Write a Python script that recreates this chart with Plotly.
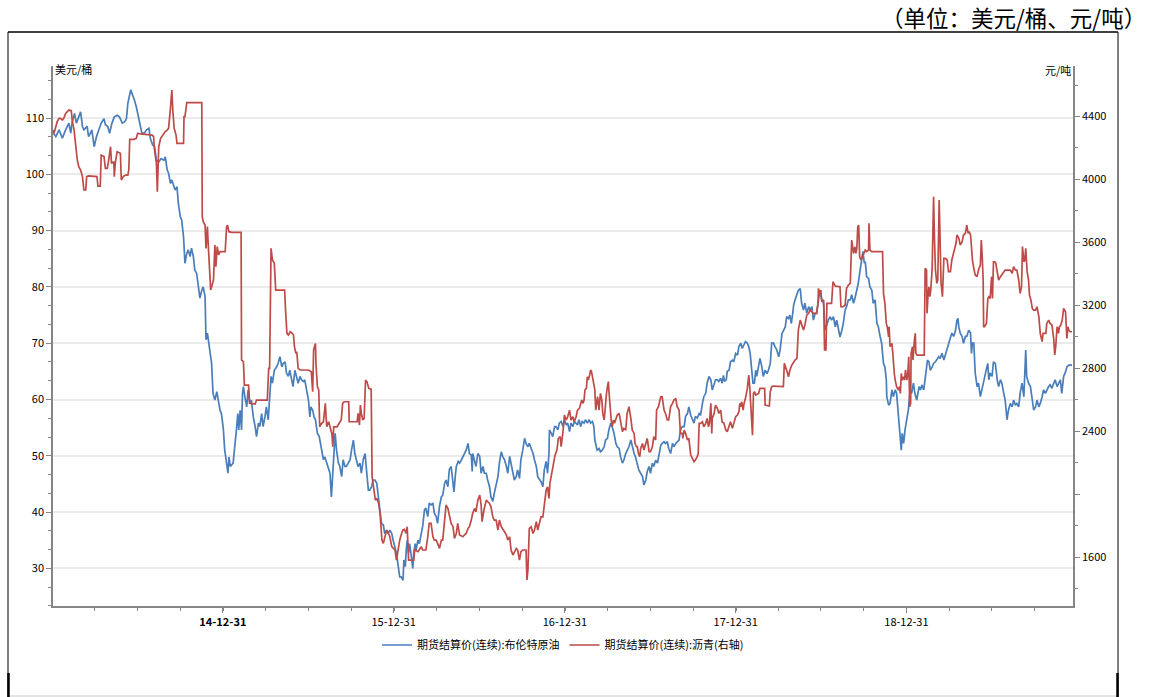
import plotly.graph_objects as go

# ---------------- data ----------------
brent = [  # 期货结算价(连续):布伦特原油, USD/bbl
    ("2014-01-03",107.3),("2014-01-08",106.7),("2014-01-15",107.9),("2014-01-22",106.4),("2014-01-29",107.9),
    ("2014-02-05",109.1),("2014-02-09",107.3),("2014-02-12",109.3),("2014-02-17",110.8),("2014-02-21",109.1),
    ("2014-02-26",110.2),("2014-03-02",111.1),("2014-03-06",108.5),("2014-03-09",107.9),("2014-03-16",108.5),
    ("2014-03-19",106.7),("2014-03-23",107.3),("2014-03-26",107.9),("2014-03-31",104.9),("2014-04-05",106.7),
    ("2014-04-10",107.9),("2014-04-15",109.1),("2014-04-21",109.9),("2014-04-24",108.8),("2014-04-29",108.5),
    ("2014-05-03",107.3),("2014-05-08",109.1),("2014-05-13",110.2),("2014-05-19",110.5),("2014-05-24",110.2),
    ("2014-05-30",109.1),("2014-06-04",109.3),("2014-06-08",109.9),("2014-06-11",112.6),("2014-06-17",115.0),
    ("2014-06-20",114.4),("2014-06-25",113.2),("2014-06-29",112.0),("2014-07-04",110.2),("2014-07-08",108.5),
    ("2014-07-11",107.3),("2014-07-16",107.3),("2014-07-21",107.9),("2014-07-26",108.2),("2014-07-29",106.4),
    ("2014-08-03",105.2),("2014-08-07",104.9),("2014-08-11",102.5),("2014-08-16",102.2),("2014-08-21",102.8),
    ("2014-08-27",102.5),("2014-08-30",103.1),("2014-09-03",100.8),("2014-09-06",100.2),("2014-09-10",98.4),
    ("2014-09-13",99.0),("2014-09-17",97.8),("2014-09-20",97.2),("2014-09-24",97.8),("2014-09-27",94.8),
    ("2014-10-01",92.5),("2014-10-04",91.9),("2014-10-08",88.9),("2014-10-11",84.2),("2014-10-15",86.0),
    ("2014-10-18",86.6),("2014-10-22",85.4),("2014-10-25",86.9),("2014-10-29",85.4),("2014-11-01",83.0),
    ("2014-11-05",82.4),("2014-11-09",80.0),("2014-11-12",78.0),("2014-11-16",79.4),("2014-11-19",80.0),
    ("2014-11-23",78.3),("2014-11-25",70.6),("2014-11-28",71.8),("2014-12-02",69.4),("2014-12-07",66.4),
    ("2014-12-10",61.1),("2014-12-14",59.9),("2014-12-18",61.4),("2014-12-21",59.6),("2014-12-25",58.1),
    ("2014-12-28",57.5),("2015-01-01",54.8),("2015-01-04",51.0),("2015-01-08",48.7),("2015-01-11",46.9),
    ("2015-01-13",49.8),("2015-01-16",48.1),("2015-01-22",48.7),("2015-01-26",51.6),("2015-01-29",54.6),
    ("2015-02-01",57.5),("2015-02-03",54.6),("2015-02-06",58.1),("2015-02-09",54.6),("2015-02-11",61.1),
    ("2015-02-13",62.3),("2015-02-16",60.5),("2015-02-20",58.7),("2015-02-23",61.7),("2015-02-27",59.3),
    ("2015-03-02",59.9),("2015-03-06",56.9),("2015-03-10",55.2),("2015-03-13",53.4),("2015-03-17",55.8),
    ("2015-03-20",55.2),("2015-03-24",57.5),("2015-03-27",55.2),("2015-03-31",56.9),("2015-04-03",58.7),
    ("2015-04-07",56.4),("2015-04-09",59.9),("2015-04-13",64.1),("2015-04-16",62.9),("2015-04-20",65.2),
    ("2015-04-25",65.8),("2015-04-28",66.4),("2015-05-02",67.6),("2015-05-06",65.8),("2015-05-09",66.4),
    ("2015-05-13",66.7),("2015-05-16",64.7),("2015-05-20",64.1),("2015-05-23",65.2),("2015-05-27",63.5),
    ("2015-05-30",62.3),("2015-06-03",65.2),("2015-06-07",64.1),("2015-06-10",62.9),("2015-06-14",64.1),
    ("2015-06-17",63.5),("2015-06-21",63.2),("2015-06-24",63.5),("2015-06-28",61.7),("2015-07-02",59.9),
    ("2015-07-05",56.9),("2015-07-07",58.7),("2015-07-11",58.1),("2015-07-14",56.9),("2015-07-17",56.4),
    ("2015-07-21",54.0),("2015-07-25",53.4),("2015-07-30",51.0),("2015-08-03",49.3),("2015-08-06",49.8),
    ("2015-08-10",48.7),("2015-08-13",48.1),("2015-08-17",46.9),("2015-08-20",42.7),("2015-08-24",49.3),
    ("2015-08-28",54.0),("2015-08-31",51.0),("2015-09-04",48.7),("2015-09-07",48.1),("2015-09-11",46.3),
    ("2015-09-14",49.3),("2015-09-18",48.1),("2015-09-21",48.1),("2015-09-25",48.7),("2015-09-29",49.3),
    ("2015-10-02",51.0),("2015-10-06",52.8),("2015-10-09",50.4),("2015-10-13",49.3),("2015-10-16",48.1),
    ("2015-10-20",48.7),("2015-10-23",46.9),("2015-10-27",49.3),("2015-10-31",50.4),("2015-11-03",47.5),
    ("2015-11-07",43.9),("2015-11-10",43.9),("2015-11-14",44.5),("2015-11-17",45.7),("2015-11-21",45.7),
    ("2015-11-25",45.1),("2015-11-28",42.7),("2015-12-02",40.4),("2015-12-05",38.0),("2015-12-09",37.7),
    ("2015-12-12",36.2),("2015-12-16",36.8),("2015-12-19",36.2),("2015-12-23",36.8),("2015-12-27",36.2),
    ("2015-12-30",35.0),("2016-01-03",33.3),("2016-01-06",32.7),("2016-01-10",30.3),("2016-01-13",28.5),
    ("2016-01-16",28.5),("2016-01-20",27.9),("2016-01-22",31.5),("2016-01-25",30.3),("2016-01-27",33.3),
    ("2016-01-29",35.0),("2016-02-01",32.7),("2016-02-03",34.4),("2016-02-05",33.3),("2016-02-08",31.5),
    ("2016-02-10",30.0),("2016-02-12",32.7),("2016-02-15",34.4),("2016-02-17",33.3),("2016-02-21",35.0),
    ("2016-02-24",34.4),("2016-02-28",36.2),("2016-03-02",37.4),("2016-03-06",40.4),("2016-03-09",40.7),
    ("2016-03-13",39.2),("2016-03-16",41.6),("2016-03-20",41.3),("2016-03-24",41.6),("2016-03-27",39.8),
    ("2016-03-31",39.2),("2016-04-03",38.0),("2016-04-07",41.0),("2016-04-11",42.7),("2016-04-14",43.0),
    ("2016-04-18",45.1),("2016-04-21",45.7),("2016-04-25",44.5),("2016-04-28",47.5),("2016-05-02",48.1),
    ("2016-05-06",45.1),("2016-05-08",43.6),("2016-05-11",46.6),("2016-05-13",48.1),("2016-05-17",49.0),
    ("2016-05-20",48.7),("2016-05-24",49.3),("2016-05-27",49.9),("2016-05-31",50.4),("2016-06-03",51.0),
    ("2016-06-07",52.2),("2016-06-10",50.4),("2016-06-14",50.1),("2016-06-16",47.2),("2016-06-17",50.4),
    ("2016-06-21",49.3),("2016-06-24",48.1),("2016-06-28",50.4),("2016-07-02",49.9),("2016-07-05",46.9),
    ("2016-07-09",48.1),("2016-07-12",46.9),("2016-07-16",46.9),("2016-07-19",45.7),("2016-07-23",44.5),
    ("2016-07-26",42.7),("2016-07-30",41.9),("2016-08-02",43.3),("2016-08-06",45.1),("2016-08-10",46.3),
    ("2016-08-13",48.7),("2016-08-17",50.7),("2016-08-20",49.9),("2016-08-24",49.3),("2016-08-28",48.1),
    ("2016-08-31",46.9),("2016-09-04",49.9),("2016-09-07",48.7),("2016-09-11",46.9),("2016-09-14",45.7),
    ("2016-09-18",46.3),("2016-09-21",47.5),("2016-09-25",46.0),("2016-09-28",49.3),("2016-10-02",51.0),
    ("2016-10-06",53.1),("2016-10-09",52.2),("2016-10-13",51.6),("2016-10-16",52.2),("2016-10-20",51.3),
    ("2016-10-24",50.4),("2016-10-27",49.3),("2016-10-31",48.1),("2016-11-03",46.3),("2016-11-07",45.7),
    ("2016-11-10",45.4),("2016-11-14",44.5),("2016-11-17",47.5),("2016-11-21",49.0),("2016-11-24",46.9),
    ("2016-11-27",50.4),("2016-11-28",54.6),("2016-12-02",54.0),("2016-12-05",53.4),("2016-12-09",55.2),
    ("2016-12-12",55.2),("2016-12-16",54.6),("2016-12-19",55.8),("2016-12-23",56.1),("2016-12-27",55.2),
    ("2016-12-30",56.4),("2017-01-03",55.5),("2017-01-06",55.8),("2017-01-10",54.3),("2017-01-13",55.8),
    ("2017-01-17",55.2),("2017-01-20",56.1),("2017-01-24",55.8),("2017-01-27",55.5),("2017-01-30",56.4),
    ("2017-02-03",55.2),("2017-02-06",56.1),("2017-02-10",55.8),("2017-02-13",56.4),("2017-02-17",55.8),
    ("2017-02-21",56.4),("2017-02-24",55.8),("2017-02-28",56.1),("2017-03-03",55.2),("2017-03-05",52.8),
    ("2017-03-08",51.6),("2017-03-10",51.0),("2017-03-14",51.3),("2017-03-17",50.7),("2017-03-21",51.0),
    ("2017-03-25",51.6),("2017-03-28",52.8),("2017-04-01",53.1),("2017-04-04",54.6),("2017-04-08",55.8),
    ("2017-04-11",55.2),("2017-04-15",54.0),("2017-04-19",52.2),("2017-04-22",51.6),("2017-04-26",51.3),
    ("2017-04-29",49.8),("2017-05-03",48.7),("2017-05-06",49.2),("2017-05-10",50.4),("2017-05-13",51.0),
    ("2017-05-17",51.6),("2017-05-21",52.8),("2017-05-24",51.6),("2017-05-28",50.4),("2017-05-31",49.8),
    ("2017-06-04",48.7),("2017-06-07",47.5),("2017-06-11",46.9),("2017-06-15",46.3),("2017-06-18",44.8),
    ("2017-06-22",45.7),("2017-06-25",47.2),("2017-06-29",48.1),("2017-07-02",46.9),("2017-07-06",48.7),
    ("2017-07-09",48.1),("2017-07-13",49.2),("2017-07-17",48.7),("2017-07-20",50.1),("2017-07-24",51.9),
    ("2017-07-27",52.2),("2017-07-31",52.5),("2017-08-03",52.2),("2017-08-07",52.5),("2017-08-10",51.3),
    ("2017-08-14",50.4),("2017-08-18",52.2),("2017-08-21",51.6),("2017-08-25",52.2),("2017-08-28",52.5),
    ("2017-09-01",52.8),("2017-09-04",54.6),("2017-09-08",55.2),("2017-09-12",55.2),("2017-09-15",57.0),
    ("2017-09-19",57.5),("2017-09-22",58.7),("2017-09-26",57.2),("2017-09-29",56.7),("2017-10-03",55.8),
    ("2017-10-06",57.0),("2017-10-10",56.7),("2017-10-14",57.5),("2017-10-17",57.2),("2017-10-21",59.3),
    ("2017-10-24",60.5),("2017-10-28",61.1),("2017-10-31",62.9),("2017-11-04",64.1),("2017-11-08",63.5),
    ("2017-11-11",61.7),("2017-11-15",62.6),("2017-11-18",63.5),("2017-11-22",63.5),("2017-11-25",63.2),
    ("2017-11-29",63.8),("2017-12-02",62.9),("2017-12-05",64.3),("2017-12-07",63.2),("2017-12-11",63.5),
    ("2017-12-13",65.0),("2017-12-17",65.2),("2017-12-20",66.7),("2017-12-24",67.0),("2017-12-27",66.7),
    ("2017-12-31",68.2),("2018-01-04",67.9),("2018-01-07",69.4),("2018-01-11",70.0),("2018-01-14",69.1),
    ("2018-01-18",70.0),("2018-01-21",70.3),("2018-01-25",70.0),("2018-01-28",69.4),("2018-01-31",68.2),
    ("2018-02-03",65.2),("2018-02-06",62.9),("2018-02-09",62.9),("2018-02-12",65.2),("2018-02-14",64.1),
    ("2018-02-18",66.4),("2018-02-21",67.3),("2018-02-25",65.8),("2018-02-28",64.1),("2018-03-04",65.2),
    ("2018-03-08",64.6),("2018-03-11",65.2),("2018-03-15",66.4),("2018-03-18",70.0),("2018-03-22",70.0),
    ("2018-03-25",69.4),("2018-03-29",68.8),("2018-04-02",67.6),("2018-04-05",68.8),("2018-04-09",71.7),
    ("2018-04-12",72.3),("2018-04-16",72.9),("2018-04-19",74.7),("2018-04-23",74.4),("2018-04-26",75.0),
    ("2018-04-29",73.5),("2018-05-02",75.3),("2018-05-04",76.8),("2018-05-07",77.7),("2018-05-11",78.9),
    ("2018-05-14",79.4),("2018-05-18",79.7),("2018-05-21",77.1),("2018-05-25",75.9),("2018-05-28",77.1),
    ("2018-06-01",75.3),("2018-06-05",76.5),("2018-06-08",75.9),("2018-06-12",76.5),("2018-06-15",74.1),
    ("2018-06-19",75.3),("2018-06-22",75.3),("2018-06-26",78.3),("2018-06-29",79.4),("2018-07-03",77.7),
    ("2018-07-07",77.1),("2018-07-10",72.3),("2018-07-14",73.5),("2018-07-17",74.1),("2018-07-21",74.7),
    ("2018-07-24",74.1),("2018-07-28",74.7),("2018-08-01",72.9),("2018-08-04",74.1),("2018-08-08",72.3),
    ("2018-08-11",71.1),("2018-08-15",72.3),("2018-08-18",73.5),("2018-08-22",75.9),("2018-08-25",76.5),
    ("2018-08-29",77.7),("2018-09-02",77.7),("2018-09-05",78.6),("2018-09-09",77.1),("2018-09-12",78.0),
    ("2018-09-16",79.4),("2018-09-19",80.6),("2018-09-23",83.0),("2018-09-27",85.4),("2018-09-29",86.3),
    ("2018-10-02",84.2),("2018-10-04",84.5),("2018-10-07",81.8),("2018-10-11",81.5),("2018-10-14",80.0),
    ("2018-10-18",79.4),("2018-10-21",77.1),("2018-10-25",77.7),("2018-10-29",73.5),("2018-11-01",72.9),
    ("2018-11-05",71.1),("2018-11-08",70.0),("2018-11-12",66.4),("2018-11-15",65.8),("2018-11-18",63.5),
    ("2018-11-19",60.5),("2018-11-23",59.0),("2018-11-26",59.3),("2018-11-30",61.7),("2018-12-03",60.5),
    ("2018-12-07",61.7),("2018-12-10",61.1),("2018-12-14",57.0),("2018-12-17",54.6),("2018-12-20",51.0),
    ("2018-12-22",54.0),("2018-12-25",52.2),("2018-12-28",54.6),("2019-01-01",57.0),("2019-01-04",58.1),
    ("2019-01-08",61.7),("2019-01-11",61.1),("2019-01-15",62.9),("2019-01-18",61.1),("2019-01-22",59.9),
    ("2019-01-27",62.3),("2019-01-30",61.7),("2019-02-02",62.6),("2019-02-06",61.7),("2019-02-09",64.1),
    ("2019-02-12",65.8),("2019-02-14",67.0),("2019-02-17",66.7),("2019-02-20",65.2),("2019-02-24",65.8),
    ("2019-02-27",66.4),("2019-03-03",66.7),("2019-03-06",67.0),("2019-03-10",67.6),("2019-03-13",67.3),
    ("2019-03-17",68.2),("2019-03-21",67.0),("2019-03-24",67.9),("2019-03-28",68.8),("2019-03-31",70.0),
    ("2019-04-04",71.2),("2019-04-07",71.8),("2019-04-11",71.2),("2019-04-15",72.3),("2019-04-18",74.1),
    ("2019-04-20",74.4),("2019-04-22",72.9),("2019-04-25",71.8),("2019-04-29",71.2),("2019-05-02",70.0),
    ("2019-05-06",71.2),("2019-05-09",71.2),("2019-05-13",72.3),("2019-05-17",71.8),("2019-05-19",68.2),
    ("2019-05-21",70.0),("2019-05-24",70.0),("2019-05-27",64.7),("2019-05-31",62.3),("2019-06-03",62.9),
    ("2019-06-07",60.5),("2019-06-10",61.7),("2019-06-14",63.5),("2019-06-18",64.7),("2019-06-21",65.8),
    ("2019-06-23",66.4),("2019-06-25",63.5),("2019-06-28",64.7),("2019-07-02",64.1),("2019-07-05",66.7),
    ("2019-07-09",66.4),("2019-07-13",63.5),("2019-07-16",62.3),("2019-07-20",63.5),("2019-07-23",62.9),
    ("2019-07-27",61.1),("2019-07-30",59.9),("2019-08-03",56.4),("2019-08-06",58.1),("2019-08-10",59.3),
    ("2019-08-14",58.7),("2019-08-17",59.9),("2019-08-21",59.0),("2019-08-24",59.3),("2019-08-28",58.7),
    ("2019-08-31",61.1),("2019-09-04",62.9),("2019-09-08",60.5),("2019-09-10",64.7),("2019-09-12",68.8),
    ("2019-09-14",64.1),("2019-09-16",63.5),("2019-09-18",62.9),("2019-09-22",62.3),("2019-09-25",60.5),
    ("2019-09-29",58.1),("2019-10-03",58.7),("2019-10-06",59.9),("2019-10-10",58.7),("2019-10-13",59.3),
    ("2019-10-17",60.5),("2019-10-20",61.7),("2019-10-24",61.1),("2019-10-27",61.7),("2019-10-31",62.3),
    ("2019-11-03",62.6),("2019-11-07",62.0),("2019-11-11",62.9),("2019-11-14",63.5),("2019-11-18",62.3),
    ("2019-11-21",62.9),("2019-11-25",63.5),("2019-11-28",61.1),("2019-12-02",64.1),("2019-12-06",64.9),
    ("2019-12-09",65.8),("2019-12-13",66.1),("2019-12-16",66.1),("2019-12-20",66.1),
]

asphalt = [  # 期货结算价(连续):沥青, CNY/t (right axis)
    ("2014-01-02",4314),("2014-01-04",4293),("2014-01-08",4335),("2014-01-11",4367),("2014-01-15",4388),
    ("2014-01-18",4388),("2014-01-22",4378),("2014-01-25",4388),("2014-01-29",4420),("2014-02-01",4431),
    ("2014-02-05",4441),("2014-02-10",4437),("2014-02-12",4378),("2014-02-16",4314),("2014-02-19",4229),
    ("2014-02-23",4123),("2014-02-26",4081),("2014-03-02",4060),("2014-03-06",4018),("2014-03-09",3933),
    ("2014-03-13",3933),("2014-03-15",4018),("2014-03-19",4022),("2014-04-06",4018),("2014-04-08",3958),
    ("2014-04-13",3958),("2014-04-15",4155),("2014-04-21",4145),("2014-04-24",4070),("2014-04-28",4070),
    ("2014-05-01",4123),("2014-05-05",4208),("2014-05-07",4102),("2014-05-12",4113),("2014-05-13",4018),
    ("2014-05-15",4102),("2014-05-19",4176),("2014-05-26",4166),("2014-05-28",3996),("2014-06-01",4018),
    ("2014-06-06",4028),("2014-06-11",4028),("2014-06-13",4060),("2014-06-15",4255),("2014-06-24",4255),
    ("2014-06-29",4261),("2014-07-02",4293),("2014-07-08",4289),("2014-08-02",4282),("2014-08-05",4272),
    ("2014-08-07",4187),("2014-08-11",4102),("2014-08-13",3922),("2014-08-14",4102),("2014-08-16",4208),
    ("2014-08-20",4261),("2014-08-27",4293),("2014-08-30",4304),("2014-09-03",4314),("2014-09-06",4325),
    ("2014-09-10",4452),("2014-09-13",4568),("2014-09-15",4441),("2014-09-18",4325),("2014-09-22",4282),
    ("2014-09-24",4229),("2014-10-08",4229),("2014-10-09",4399),("2014-10-11",4399),("2014-10-15",4488),
    ("2014-11-16",4488),("2014-11-17",3763),("2014-11-19",3731),("2014-11-23",3710),("2014-11-25",3562),
    ("2014-11-28",3700),("2014-11-30",3573),("2014-12-04",3361),("2014-12-05",3297),("2014-12-09",3339),
    ("2014-12-11",3361),("2014-12-14",3583),("2014-12-16",3445),("2014-12-19",3573),("2014-12-22",3520),
    ("2014-12-25",3541),("2015-01-05",3541),("2015-01-08",3700),("2015-01-10",3710),("2015-01-13",3668),
    ("2015-01-19",3664),("2015-02-08",3664),("2015-02-09",2852),("2015-02-13",2842),("2015-02-15",2693),
    ("2015-02-24",2693),("2015-02-26",2577),("2015-03-10",2572),("2015-03-13",2598),("2015-04-05",2598),
    ("2015-04-08",2799),("2015-04-10",2799),("2015-04-13",3562),("2015-04-16",3488),("2015-04-20",3467),
    ("2015-04-23",3297),("2015-05-12",3297),("2015-05-14",3170),("2015-05-17",3022),("2015-05-20",3011),
    ("2015-05-24",3032),("2015-05-27",3026),("2015-05-31",3011),("2015-06-02",2937),("2015-06-05",2895),
    ("2015-06-07",2905),("2015-06-10",2799),("2015-06-14",2789),("2015-07-02",2789),("2015-07-08",2778),
    ("2015-07-11",2651),("2015-07-13",2916),("2015-07-17",2958),("2015-07-18",2831),("2015-07-21",2683),
    ("2015-07-24",2661),("2015-07-26",2428),("2015-07-30",2450),("2015-08-03",2460),("2015-08-07",2577),
    ("2015-08-10",2428),("2015-08-14",2460),("2015-08-17",2428),("2015-08-21",2386),("2015-08-23",2301),
    ("2015-08-25",2428),("2015-09-01",2428),("2015-09-06",2450),("2015-09-10",2471),("2015-09-13",2577),
    ("2015-09-16",2587),("2015-09-26",2587),("2015-09-27",2460),("2015-10-14",2460),("2015-10-16",2513),
    ("2015-10-19",2439),("2015-10-21",2566),("2015-10-23",2513),("2015-10-26",2471),("2015-10-29",2481),
    ("2015-11-01",2725),("2015-11-04",2714),("2015-11-08",2672),("2015-11-13",2666),("2015-11-15",2110),
    ("2015-11-18",2047),("2015-11-22",1962),("2015-11-25",1973),("2015-11-29",1941),("2015-12-02",1877),
    ("2015-12-06",1708),("2015-12-09",1687),("2015-12-13",1729),("2015-12-16",1771),("2015-12-20",1750),
    ("2015-12-23",1729),("2015-12-27",1666),("2015-12-31",1655),("2016-01-03",1644),("2016-01-06",1581),
    ("2016-01-10",1666),("2016-01-13",1708),("2016-01-17",1750),("2016-01-20",1772),("2016-01-23",1776),
    ("2016-01-27",1750),("2016-01-29",1793),("2016-02-01",1581),("2016-02-12",1581),("2016-02-14",1645),
    ("2016-02-21",1634),("2016-02-24",1645),("2016-02-28",1666),("2016-03-02",1645),("2016-03-09",1645),
    ("2016-03-13",1729),("2016-03-16",1814),("2016-03-20",1814),("2016-03-24",1729),("2016-03-27",1708),
    ("2016-03-31",1708),("2016-04-03",1687),("2016-04-07",1655),("2016-04-11",1708),("2016-04-14",1708),
    ("2016-04-18",1835),("2016-04-21",1931),("2016-04-25",1909),("2016-04-28",1856),("2016-05-02",1814),
    ("2016-05-06",1793),("2016-05-09",1719),("2016-05-13",1750),("2016-05-16",1814),("2016-05-20",1740),
    ("2016-05-27",1729),("2016-05-30",1740),("2016-06-03",1750),("2016-06-07",1782),("2016-06-10",1793),
    ("2016-06-14",1835),("2016-06-17",1878),("2016-06-21",1909),("2016-06-24",1888),("2016-06-28",1962),
    ("2016-07-02",1994),("2016-07-05",1931),("2016-07-07",1825),("2016-07-11",1899),("2016-07-16",1962),
    ("2016-07-19",1952),("2016-07-23",1941),("2016-07-26",1920),("2016-07-30",1856),("2016-08-02",1835),
    ("2016-08-06",1835),("2016-08-10",1772),("2016-08-13",1835),("2016-08-17",1793),("2016-08-20",1782),
    ("2016-08-24",1761),("2016-08-28",1740),("2016-08-31",1708),("2016-09-04",1729),("2016-09-07",1645),
    ("2016-09-11",1613),("2016-09-14",1634),("2016-09-18",1655),("2016-09-21",1645),("2016-09-25",1581),
    ("2016-09-28",1634),("2016-10-02",1645),("2016-10-09",1645),("2016-10-11",1454),("2016-10-13",1517),
    ("2016-10-16",1782),("2016-10-20",1793),("2016-10-24",1750),("2016-10-27",1772),("2016-10-31",1825),
    ("2016-11-03",1772),("2016-11-07",1814),("2016-11-10",1856),("2016-11-14",1856),("2016-11-17",1920),
    ("2016-11-21",2026),("2016-11-24",2047),("2016-11-27",1973),("2016-11-29",2068),("2016-12-03",2142),
    ("2016-12-07",2195),("2016-12-10",2248),("2016-12-14",2280),("2016-12-17",2354),("2016-12-21",2365),
    ("2016-12-23",2301),("2016-12-27",2397),("2016-12-30",2503),("2017-01-03",2471),("2017-01-06",2492),
    ("2017-01-10",2534),("2017-01-13",2471),("2017-01-17",2492),("2017-01-20",2460),("2017-01-24",2492),
    ("2017-01-27",2534),("2017-01-31",2545),("2017-02-03",2587),("2017-02-05",2598),("2017-02-08",2577),
    ("2017-02-10",2598),("2017-02-12",2662),("2017-02-15",2672),("2017-02-17",2746),("2017-02-19",2725),
    ("2017-02-22",2757),("2017-02-24",2789),("2017-02-26",2778),("2017-03-01",2715),("2017-03-03",2683),
    ("2017-03-05",2662),("2017-03-07",2534),("2017-03-09",2598),("2017-03-11",2619),("2017-03-14",2534),
    ("2017-03-15",2587),("2017-03-17",2640),("2017-03-20",2598),("2017-03-22",2513),("2017-03-25",2471),
    ("2017-03-27",2556),("2017-03-30",2640),("2017-04-01",2683),("2017-04-03",2715),("2017-04-04",2662),
    ("2017-04-06",2556),("2017-04-09",2471),("2017-04-11",2428),("2017-04-14",2471),("2017-04-16",2450),
    ("2017-04-19",2481),("2017-04-22",2503),("2017-04-26",2513),("2017-04-29",2450),("2017-05-03",2397),
    ("2017-05-06",2418),("2017-05-10",2407),("2017-05-13",2513),("2017-05-17",2556),("2017-05-21",2481),
    ("2017-05-24",2407),("2017-05-28",2386),("2017-05-30",2322),("2017-06-02",2301),("2017-06-04",2301),
    ("2017-06-06",2259),("2017-06-09",2238),("2017-06-11",2291),("2017-06-15",2322),("2017-06-18",2280),
    ("2017-06-22",2322),("2017-06-25",2354),("2017-06-29",2270),("2017-07-02",2270),("2017-07-06",2301),
    ("2017-07-09",2365),("2017-07-13",2344),("2017-07-15",2534),("2017-07-19",2556),("2017-07-22",2598),
    ("2017-07-24",2619),("2017-07-27",2619),("2017-07-31",2534),("2017-08-03",2513),("2017-08-07",2471),
    ("2017-08-10",2471),("2017-08-14",2556),("2017-08-18",2577),("2017-08-21",2598),("2017-08-25",2609),
    ("2017-08-28",2556),("2017-09-01",2534),("2017-09-04",2386),("2017-09-08",2386),("2017-09-09",2354),
    ("2017-09-12",2407),("2017-09-15",2386),("2017-09-19",2344),("2017-09-22",2354),("2017-09-26",2248),
    ("2017-09-29",2227),("2017-10-03",2206),("2017-10-06",2217),("2017-10-10",2238),("2017-10-12",2259),
    ("2017-10-14",2450),("2017-10-17",2450),("2017-10-21",2460),("2017-10-24",2428),("2017-10-28",2450),
    ("2017-10-31",2481),("2017-11-03",2428),("2017-11-05",2450),("2017-11-08",2577),("2017-11-10",2386),
    ("2017-11-11",2481),("2017-11-15",2513),("2017-11-18",2566),("2017-11-22",2545),("2017-11-25",2513),
    ("2017-11-29",2534),("2017-12-02",2460),("2017-12-06",2450),("2017-12-10",2407),("2017-12-13",2397),
    ("2017-12-17",2428),("2017-12-20",2460),("2017-12-24",2418),("2017-12-27",2450),("2017-12-31",2492),
    ("2018-01-04",2503),("2018-01-07",2524),("2018-01-09",2577),("2018-01-11",2556),("2018-01-13",2587),
    ("2018-01-16",2534),("2018-01-18",2577),("2018-01-21",2609),("2018-01-25",2672),("2018-01-28",2757),
    ("2018-01-30",2683),("2018-02-01",2555),("2018-02-04",2449),("2018-02-05",2375),("2018-02-07",2640),
    ("2018-02-09",2651),("2018-02-12",2630),("2018-02-18",2640),("2018-02-21",2672),("2018-03-03",2672),
    ("2018-03-04",2566),("2018-03-13",2560),("2018-03-15",2651),("2018-03-18",2683),("2018-03-22",2687),
    ("2018-04-09",2687),("2018-04-12",2683),("2018-04-14",2831),("2018-04-17",2810),("2018-04-20",2778),
    ("2018-04-23",2746),("2018-04-26",2789),("2018-04-30",2820),("2018-05-04",2842),("2018-05-07",2852),
    ("2018-05-11",2863),("2018-05-14",3043),("2018-05-18",3106),("2018-05-20",3085),("2018-05-23",3064),
    ("2018-05-25",3043),("2018-05-28",3075),("2018-06-01",3138),("2018-06-05",3149),("2018-06-08",3170),
    ("2018-06-12",3159),("2018-06-15",3149),("2018-06-22",3149),("2018-06-25",3212),("2018-06-26",3308),
    ("2018-06-28",3276),("2018-07-01",3297),("2018-07-03",3223),("2018-07-07",3234),("2018-07-09",2916),
    ("2018-07-12",2916),("2018-07-14",3212),("2018-07-24",3212),("2018-07-27",3350),("2018-08-01",3322),
    ("2018-08-11",3318),("2018-08-13",3191),("2018-08-18",3191),("2018-08-22",3202),("2018-08-25",3308),
    ("2018-08-29",3329),("2018-09-02",3339),("2018-09-05",3615),("2018-09-09",3530),("2018-09-12",3572),
    ("2018-09-14",3530),("2018-09-16",3562),("2018-09-18",3700),("2018-09-20",3710),("2018-09-22",3509),
    ("2018-09-25",3488),("2018-09-28",3509),("2018-10-01",3541),("2018-10-04",3551),("2018-10-07",3541),
    ("2018-10-11",3551),("2018-10-12",3721),("2018-10-14",3551),("2018-10-18",3541),("2018-11-10",3541),
    ("2018-11-12",3276),("2018-11-15",3212),("2018-11-18",3085),("2018-11-20",3064),("2018-11-23",2999),
    ("2018-11-24",3064),("2018-11-26",2937),("2018-11-30",2958),("2018-12-02",2894),("2018-12-03",2810),
    ("2018-12-05",2767),("2018-12-07",2725),("2018-12-10",2683),("2018-12-14",2661),("2018-12-16",2683),
    ("2018-12-18",2640),("2018-12-20",2767),("2018-12-22",2725),("2018-12-25",2746),("2018-12-27",2725),
    ("2018-12-29",2789),("2019-01-01",2725),("2019-01-03",2767),("2019-01-05",2873),("2019-01-07",2555),
    ("2019-01-09",2577),("2019-01-10",2895),("2019-01-13",2937),("2019-01-14",2852),("2019-01-17",2979),
    ("2019-01-19",3022),("2019-01-20",2895),("2019-01-23",2884),("2019-02-07",2884),("2019-02-09",3435),
    ("2019-02-12",3424),("2019-02-13",3149),("2019-02-15",3255),("2019-02-17",3318),("2019-02-19",3255),
    ("2019-02-21",3297),("2019-02-24",3435),("2019-02-26",3763),("2019-02-27",3890),("2019-03-01",3615),
    ("2019-03-03",3424),("2019-03-06",3340),("2019-03-08",3361),("2019-03-11",3869),("2019-03-13",3573),
    ("2019-03-15",3340),("2019-03-18",3255),("2019-03-21",3498),("2019-03-24",3498),("2019-03-28",3488),
    ("2019-03-31",3414),("2019-04-04",3414),("2019-04-07",3488),("2019-04-11",3541),("2019-04-13",3573),
    ("2019-04-16",3594),("2019-04-18",3647),("2019-04-22",3626),("2019-04-25",3583),("2019-04-29",3604),
    ("2019-05-02",3647),("2019-05-06",3657),("2019-05-09",3710),("2019-05-12",3657),("2019-05-14",3668),
    ("2019-05-17",3647),("2019-05-19",3573),("2019-05-21",3488),("2019-05-24",3435),("2019-05-27",3393),
    ("2019-05-31",3382),("2019-06-03",3424),("2019-06-07",3456),("2019-06-09",3615),("2019-06-11",3509),
    ("2019-06-13",3361),("2019-06-14",3064),("2019-06-16",3064),("2019-06-20",3085),("2019-06-23",3244),
    ("2019-06-25",3255),("2019-06-28",3244),("2019-07-01",3382),("2019-07-03",3244),("2019-07-05",3477),
    ("2019-07-08",3477),("2019-07-10",3467),("2019-07-13",3403),("2019-07-16",3361),("2019-07-20",3382),
    ("2019-07-23",3393),("2019-07-27",3414),("2019-07-30",3424),("2019-08-10",3424),("2019-08-14",3403),
    ("2019-08-17",3445),("2019-08-21",3424),("2019-08-24",3424),("2019-08-28",3361),("2019-08-31",3276),
    ("2019-09-03",3318),("2019-09-05",3573),("2019-09-08",3477),("2019-09-10",3488),("2019-09-12",3562),
    ("2019-09-15",3414),("2019-09-18",3361),("2019-09-20",3265),("2019-09-23",3234),("2019-09-26",3181),
    ("2019-09-29",3170),("2019-10-03",3170),("2019-10-06",3191),("2019-10-10",3128),("2019-10-13",3022),
    ("2019-10-17",2969),("2019-10-19",3022),("2019-10-25",3022),("2019-10-27",3085),("2019-10-31",3106),
    ("2019-11-03",3085),("2019-11-07",3075),("2019-11-11",2979),("2019-11-13",2884),("2019-11-15",2937),
    ("2019-11-18",3064),("2019-11-21",3022),("2019-11-23",3064),("2019-11-26",3075),("2019-11-29",3106),
    ("2019-12-02",3181),("2019-12-06",3159),("2019-12-08",3043),("2019-12-09",2990),("2019-12-11",3064),
    ("2019-12-13",3043),("2019-12-16",3032),("2019-12-20",3032),
]

series_names = ["期货结算价(连续):布伦特原油", "期货结算价(连续):沥青(右轴)"]
x_tick_dates = ["2014-12-31", "2015-12-31", "2016-12-31", "2017-12-31", "2018-12-31"]
x_tick_text = ["<b>14-12-31</b>", "15-12-31", "16-12-31", "17-12-31", "18-12-31"]
left_ticks = [30, 40, 50, 60, 70, 80, 90, 100, 110]
right_ticks = [1600, 2000, 2400, 2800, 3200, 3600, 4000, 4400]
right_tick_text = ["1600", "", "2400", "2800", "3200", "3600", "4000", "4400"]
unit_title = "（单位：美元/桶、元/吨）"
left_unit = "美元/桶"
right_unit = "元/吨"

# ---------------- layout geometry ----------------
W, H = 1149, 697
L, R, T, B = 53, 76, 66, 91
PW, PH = W - L - R, H - T - B


def px(xp):
    return (xp - L) / PW


def py(yp):
    return (H - B - yp) / PH


FONT = "Noto Sans CJK SC, Noto Sans, sans-serif"
BLUE = "#4A7EBB"
RED = "#BE4B48"
AXIS = "#868686"

fig = go.Figure()
fig.add_trace(go.Scatter(
    x=[d for d, _ in brent], y=[v for _, v in brent], name=series_names[0],
    mode="lines", line=dict(color=BLUE, width=1.7), yaxis="y"))
fig.add_trace(go.Scatter(
    x=[d for d, _ in asphalt], y=[v for _, v in asphalt], name=series_names[1],
    mode="lines", line=dict(color=RED, width=1.7), yaxis="y2"))

fig.update_layout(
    width=W, height=H,
    margin=dict(l=L, r=R, t=T, b=B, pad=0),
    paper_bgcolor="white", plot_bgcolor="white",
    font=dict(family=FONT, size=11, color="#000000"),
    showlegend=True,
    legend=dict(orientation="h", x=0.5, xanchor="center", y=py(645), yanchor="middle",
                font=dict(size=11, color="#000000"), itemwidth=30, tracegroupgap=0,
                bgcolor="rgba(0,0,0,0)"),
    xaxis=dict(
        type="date", range=["2014-01-02", "2019-12-22"],
        tickmode="array", tickvals=x_tick_dates, ticktext=x_tick_text,
        ticks="outside", ticklen=5, tickwidth=1, tickcolor=AXIS,
        showline=True, linecolor=AXIS, linewidth=1.5, showgrid=False, zeroline=False,
        tickfont=dict(size=11, color="#000000"),
        minor=dict(dtick="M3", tick0="2014-01-01", ticks="outside", ticklen=3,
                   tickcolor=AXIS, tickwidth=1, showgrid=False),
    ),
    yaxis=dict(
        range=[23.32, 119.24], tickmode="array", tickvals=left_ticks,
        ticks="outside", ticklen=5, tickwidth=1, tickcolor=AXIS,
        showline=True, linecolor=AXIS, linewidth=1.5,
        showgrid=True, gridcolor="#EBEBEB", gridwidth=1.5, zeroline=False,
        tickfont=dict(size=11, color="#000000"),
        minor=dict(dtick=10 / 3, tick0=30, ticks="outside", ticklen=3,
                   tickcolor=AXIS, tickwidth=1, showgrid=False),
    ),
    yaxis2=dict(
        range=[1289, 4721], overlaying="y", side="right", anchor="x",
        tickmode="array", tickvals=right_ticks, ticktext=right_tick_text,
        ticks="outside", ticklen=5, tickwidth=1, tickcolor=AXIS,
        showline=True, linecolor=AXIS, linewidth=1.5, showgrid=False, zeroline=False,
        tickfont=dict(size=11, color="#000000"),
        minor=dict(dtick=200, tick0=1600, ticks="outside", ticklen=3,
                   tickcolor=AXIS, tickwidth=1, showgrid=False),
    ),
)

fig.add_annotation(text=unit_title, xref="paper", yref="paper", x=px(1148), y=py(17),
                   xanchor="right", yanchor="middle", showarrow=False,
                   font=dict(size=22.5, color="#000000", family=FONT))
fig.add_annotation(text=left_unit, xref="paper", yref="paper", x=px(53), y=py(69),
                   xanchor="left", yanchor="middle", showarrow=False,
                   font=dict(size=11, color="#000000", family=FONT))
fig.add_annotation(text=right_unit, xref="paper", yref="paper", x=px(1073), y=py(70),
                   xanchor="right", yanchor="middle", showarrow=False,
                   font=dict(size=11, color="#000000", family=FONT))

# outer frame
frame = [
    (8, 32, 1118, 32, "#000000", 1.5),
    (8, 32, 8, 697, "#000000", 1),
    (1118, 32, 1118, 697, "#000000", 1),
    (8, 696, 1118, 696, "#C8C8C8", 1),
    (8.5, 673, 8.5, 697, "#000000", 2.5),
    (1117.5, 673, 1117.5, 697, "#000000", 2.5),
]
for x0, y0, x1, y1, c, w in frame:
    fig.add_shape(type="line", xref="paper", yref="paper",
                  x0=px(x0), y0=py(y0), x1=px(x1), y1=py(y1),
                  line=dict(color=c, width=w), layer="above")

fig.write_html("out.html")
